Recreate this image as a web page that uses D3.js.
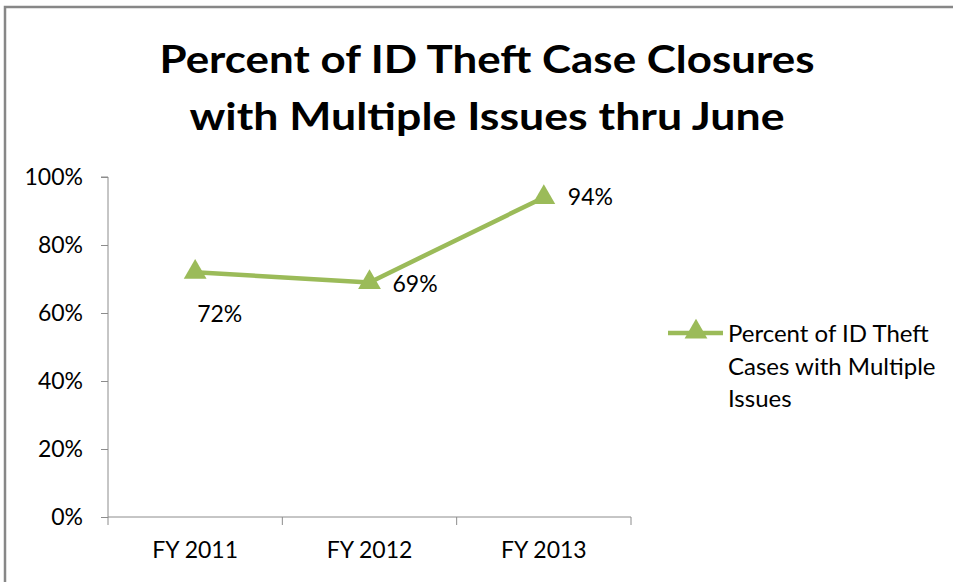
<!DOCTYPE html>
<html>
<head>
<meta charset="utf-8">
<script src="https://cdn.jsdelivr.net/npm/d3@7"></script>
<style>
  html, body { margin: 0; padding: 0; background: #fff; }
  svg { display: block; }
  text { font-family: Lato, "Open Sans", "DejaVu Sans", sans-serif; fill: #000; }
</style>
</head>
<body>
<svg id="chart" width="953" height="582"></svg>
<script>
const titleLines = ["Percent of ID Theft Case Closures", "with Multiple Issues thru June"];
const categories = ["FY 2011", "FY 2012", "FY 2013"];
const values = [0.72, 0.69, 0.94];
const valueLabels = ["72%", "69%", "94%"];
const yTicks = [0, 0.2, 0.4, 0.6, 0.8, 1.0];
const seriesName = ["Percent of ID Theft", "Cases with Multiple", "Issues"];

(function () {
const svg = d3.select("#chart");
const green = "#9BBB59";
const fs = 23;

// frame
svg.append("path")
  .attr("d", "M5,582 L5,7 L953,7")
  .attr("fill", "none").attr("stroke", "#878787").attr("stroke-width", 2.5);

// title
const titleW = [655, 595];
titleLines.forEach((t, i) => {
  svg.append("text")
    .attr("x", 487).attr("y", 73 + i * 57)
    .attr("text-anchor", "middle")
    .attr("font-size", 38).attr("font-weight", 700)
    .attr("textLength", titleW[i]).attr("lengthAdjust", "spacingAndGlyphs")
    .text(t);
});

const pLeft = 108, pRight = 631, pTop = 177, pBottom = 517;
const x = d3.scaleBand().domain(categories).range([pLeft, pRight]);
const y = d3.scaleLinear().domain([0, 1]).range([pBottom, pTop]);

// y axis
const yAxis = svg.append("g").attr("transform", `translate(${pLeft},0)`)
  .call(d3.axisLeft(y).tickValues(yTicks).tickFormat(d3.format(".0%")).tickSize(7).tickPadding(18));
yAxis.select(".domain").attr("stroke", "#8c8c8c").attr("d", `M-7,${pTop}H0V${pBottom}`);
yAxis.selectAll(".tick line").attr("stroke", "#8c8c8c");
yAxis.selectAll(".tick text").attr("font-size", fs).attr("fill", "#000")
  .style("font-family", "Lato, 'Open Sans', sans-serif");

// x axis
const xAxis = svg.append("g").attr("transform", `translate(0,${pBottom})`)
  .call(d3.axisBottom(x).tickSize(0).tickPadding(25));
xAxis.select(".domain").attr("stroke", "#8c8c8c").attr("d", `M${pLeft},0H${pRight}`);
xAxis.selectAll(".tick text").attr("font-size", fs).attr("fill", "#000")
  .style("font-family", "Lato, 'Open Sans', sans-serif");
const bounds = categories.map(c => x(c)).concat([pRight]);
svg.append("g").selectAll("line").data(bounds).join("line")
  .attr("x1", d => d).attr("x2", d => d)
  .attr("y1", pBottom).attr("y2", pBottom + 8)
  .attr("stroke", "#8c8c8c");

const cx = c => x(c) + x.bandwidth() / 2;
const pts = categories.map((c, i) => [cx(c), y(values[i])]);

svg.append("path").datum(pts)
  .attr("d", d3.line())
  .attr("fill", "none").attr("stroke", green).attr("stroke-width", 4.5)
  .attr("stroke-linejoin", "round");

const tri = d3.symbol().type(d3.symbolTriangle).size(225);
svg.append("g").selectAll("path").data(pts).join("path")
  .attr("transform", d => `translate(${d[0]},${d[1]})`)
  .attr("d", tri).attr("fill", green);

// data labels
const labelOffsets = [[2, 50], [23, 10], [24, 8]];
svg.append("g").selectAll("text").data(pts).join("text")
  .attr("x", (d, i) => d[0] + labelOffsets[i][0])
  .attr("y", (d, i) => d[1] + labelOffsets[i][1])
  .attr("font-size", fs)
  .text((d, i) => valueLabels[i]);

// legend
const lg = svg.append("g");
lg.append("line").attr("x1", 668).attr("x2", 723).attr("y1", 333).attr("y2", 333)
  .attr("stroke", green).attr("stroke-width", 4.5);
lg.append("path").attr("transform", "translate(696,332)").attr("d", tri).attr("fill", green);
seriesName.forEach((s, i) => {
  lg.append("text").attr("x", 728).attr("y", 342 + i * 32.5)
    .attr("font-size", 24).text(s);
});
})();
</script>
</body>
</html>
